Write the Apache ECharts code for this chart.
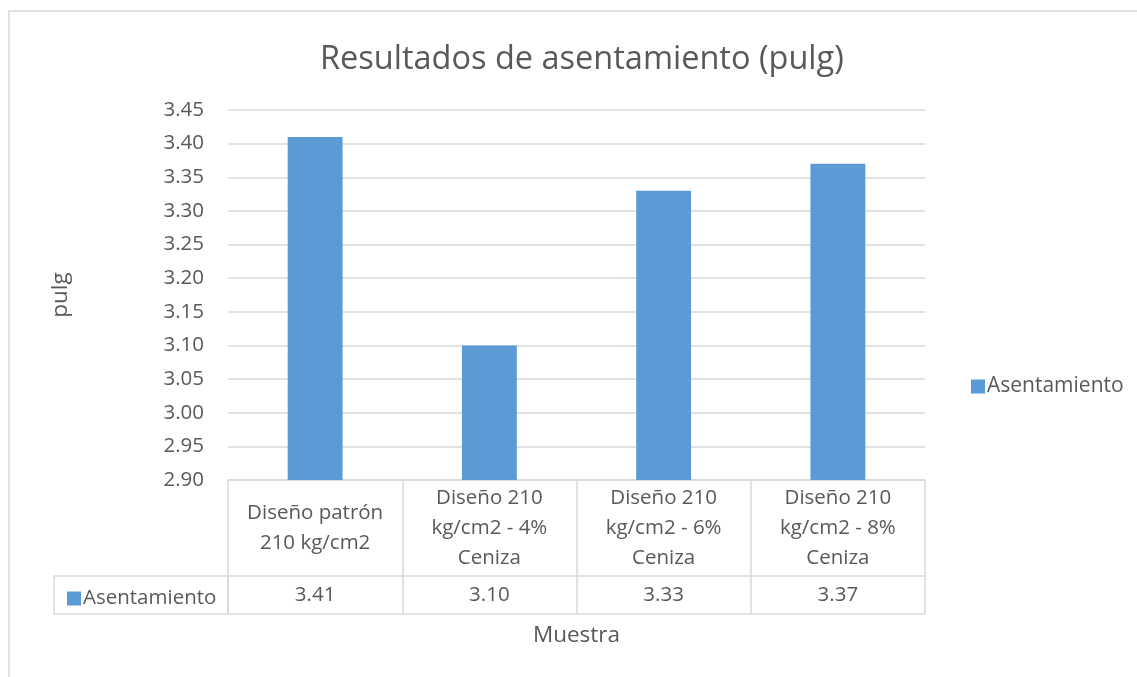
<!DOCTYPE html>
<html>
<head>
<meta charset="utf-8">
<title>Resultados de asentamiento</title>
<script src="https://cdn.jsdelivr.net/npm/echarts@6/dist/echarts.min.js"></script>
<style>
  html, body { margin: 0; padding: 0; background: #ffffff; }
  #chart { width: 1137px; height: 677px; }
</style>
</head>
<body>
<div id="chart"></div>
<script>
// data
var seriesName = 'Asentamiento'
var categories = [
  'Diseño patrón\n210 kg/cm2',
  'Diseño 210\nkg/cm2 - 4%\nCeniza',
  'Diseño 210\nkg/cm2 - 6%\nCeniza',
  'Diseño 210\nkg/cm2 - 8%\nCeniza'
]
var values = [3.41, 3.10, 3.33, 3.37]

// layout
var font = 'Open Sans'
var textColor = '#595959'
var lineColor = '#d9d9d9'
var gridLeft = 228
var gridRight = 212
var gridTop = 110
var gridBottom = 197
var row1 = 96   // category row height
var row2 = 38   // value row height
var axisY = 677 - gridBottom

var myChart = echarts.init(document.getElementById('chart'))

var option = {
  backgroundColor: '#ffffff',
  textStyle: { fontFamily: font, color: textColor },
  title: {
    text: 'Resultados de asentamiento (pulg)',
    left: 315,
    top: 38,
    textStyle: { fontFamily: font, fontSize: 32.5, fontWeight: 'normal', color: textColor }
  },
  legend: [
    {
      data: [seriesName],
      left: 966,
      top: 371,
      icon: 'rect',
      itemWidth: 14,
      itemHeight: 14,
      itemGap: 5,
      textStyle: { fontFamily: font, fontSize: 21, color: textColor, padding: [0, 0, 0, -3] }
    },
    {
      data: [seriesName],
      left: 62,
      top: axisY + row1 + 7,
      icon: 'rect',
      itemWidth: 14,
      itemHeight: 14,
      textStyle: { fontFamily: font, fontSize: 20.5, color: textColor, padding: [0, 0, 0, -3] }
    }
  ],
  grid: {
    left: gridLeft,
    right: gridRight,
    top: gridTop,
    bottom: gridBottom
  },
  xAxis: [
    {
      type: 'category',
      data: categories,
      position: 'bottom',
      axisLine: { lineStyle: { color: lineColor, width: 1.5 } },
      axisTick: { show: true, interval: 0, length: row1, lineStyle: { color: lineColor, width: 1.5 } },
      axisLabel: {
        interval: 0,
        margin: row1 / 2,
        verticalAlign: 'middle',
        lineHeight: 30,
        fontFamily: font,
        fontSize: 20.5,
        color: textColor
      }
    },
    {
      type: 'category',
      data: categories,
      position: 'bottom',
      offset: row1,
      axisLine: { lineStyle: { color: lineColor, width: 1.5 } },
      axisTick: { show: true, interval: 0, length: row2, lineStyle: { color: lineColor, width: 1.5 } },
      axisLabel: {
        interval: 0,
        margin: row2 / 2,
        verticalAlign: 'middle',
        fontFamily: font,
        fontSize: 20.5,
        color: textColor,
        formatter: function (v, i) {
          return values[i].toFixed(2)
        }
      }
    },
    {
      type: 'category',
      data: categories,
      position: 'bottom',
      offset: row1 + row2,
      axisLine: { lineStyle: { color: lineColor, width: 1.5 } },
      axisTick: { show: false },
      axisLabel: { show: false },
      name: 'Muestra',
      nameLocation: 'middle',
      nameGap: 22,
      nameTextStyle: { fontFamily: font, fontSize: 22.5, color: textColor, verticalAlign: 'middle' }
    }
  ],
  yAxis: {
    type: 'value',
    min: 2.9,
    max: 3.45,
    interval: 0.05,
    axisLine: { show: false },
    axisTick: { show: false },
    splitLine: { lineStyle: { color: lineColor, width: 1.5 } },
    axisLabel: {
      margin: 24,
      fontFamily: font,
      fontSize: 20.5,
      color: textColor,
      formatter: function (v) {
        return v.toFixed(2)
      }
    },
    name: 'pulg',
    nameLocation: 'middle',
    nameGap: 156,
    nameRotate: 90,
    nameTextStyle: { fontFamily: font, fontSize: 22.5, color: textColor }
  },
  series: [
    {
      name: seriesName,
      type: 'bar',
      xAxisIndex: 0,
      data: values,
      barWidth: '31.5%',
      itemStyle: { color: '#5b9bd5' }
    }
  ],
  graphic: [
    // chart area border (cropped on right and bottom)
    {
      type: 'rect',
      shape: { x: 9, y: 11, width: 1200, height: 700 },
      style: { fill: 'none', stroke: lineColor, lineWidth: 1.5 },
      silent: true
    },
    // legend key cell of the data table
    {
      type: 'rect',
      shape: { x: 54, y: axisY + row1, width: gridLeft - 54, height: row2 },
      style: { fill: 'none', stroke: lineColor, lineWidth: 1.5 },
      silent: true
    }
  ]
}

myChart.setOption(option)
</script>
</body>
</html>
